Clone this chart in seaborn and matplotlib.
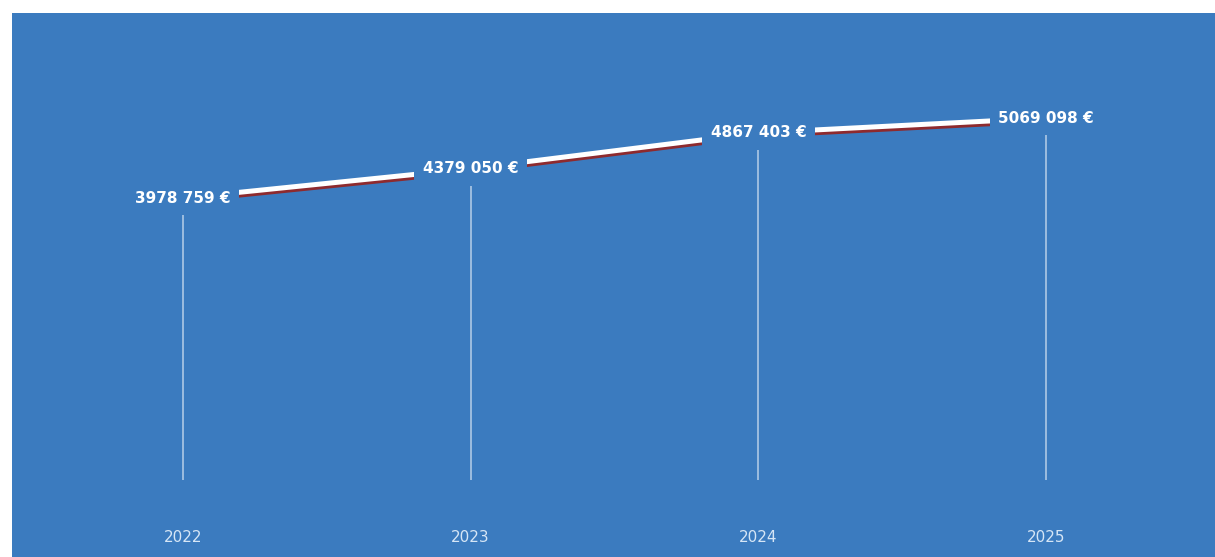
import matplotlib
matplotlib.use("Agg")
import matplotlib.pyplot as plt
import matplotlib.patheffects as pe
import seaborn as sns
import pandas as pd

years = ["2022", "2023", "2024", "2025"]
totals = [3978759, 4379050, 4867403, 5069098]
labels = ["3978 759 €", "4379 050 €", "4867 403 €", "5069 098 €"]

BLUE = "#3b7bbf"
SHADOW = "#8e2a2e"

sns.set_theme(style="white")
plt.rcParams["font.family"] = ["DejaVu Sans"]

df = pd.DataFrame({"idx": range(len(years)), "total": totals})

fig = plt.figure(figsize=(12.15, 5.57), dpi=100, facecolor="white")
ax = fig.add_axes([12 / 1215, 0, 1203 / 1215, 544 / 557])
ax.set_facecolor(BLUE)

ax.set_xlim(-0.594, 3.587)
ax.set_ylim(-913000, 6501000)

# units per pixel on the value axis, for gaps below the labels
ax_h_px = 544
units_per_px = (6501000 + 913000) / ax_h_px

# thin drop lines from the base up to just under each label
tops = [v - 17 * units_per_px for v in totals]
ax.vlines(df["idx"], 136000, tops, colors="white", alpha=0.5, linewidth=1.4, zorder=1)

sns.lineplot(data=df, x="idx", y="total", ax=ax, color="white", linewidth=3.6,
             zorder=2, legend=False,
             path_effects=[pe.SimpleLineShadow(offset=(0, -2), shadow_color=SHADOW, alpha=1),
                           pe.Normal()])

for i, (v, lab) in enumerate(zip(totals, labels)):
    ax.text(i, v, lab, ha="center", va="center", color="white", fontsize=11,
            fontweight="bold", zorder=3,
            bbox=dict(boxstyle="square,pad=0.55", facecolor=BLUE, edgecolor="none"))
    ax.text(i, 0.035, years[i], transform=ax.get_xaxis_transform(), ha="center",
            va="center", color="#d6e6f6", fontsize=11)

ax.set_xticks([])
ax.set_yticks([])
ax.set_xlabel("")
ax.set_ylabel("")
for s in ax.spines.values():
    s.set_visible(False)

fig.savefig("out.png", dpi=100, facecolor="white")
